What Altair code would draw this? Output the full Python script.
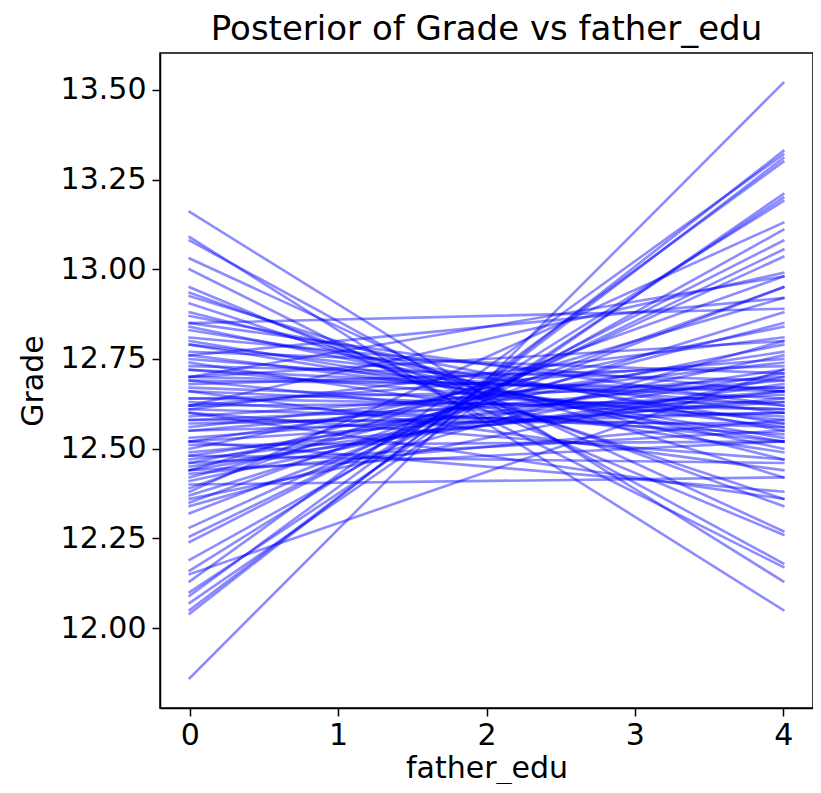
import altair as alt
import pandas as pd

# Grade at father_edu = 0 (start) and father_edu = 4 (end) for each posterior draw
start_vals = [
    11.86, 13.16, 13.09, 13.08, 13.03, 13.00, 12.95, 12.935, 12.925, 12.905,
    12.04, 12.05, 12.07, 12.09, 12.10, 12.13, 12.15, 12.16, 12.19, 12.24,
    12.255, 12.28, 12.32,
    12.34, 12.35, 12.36, 12.37, 12.38, 12.39, 12.40, 12.41, 12.42, 12.43,
    12.44, 12.45, 12.46, 12.46, 12.62, 12.48, 12.49, 12.50, 12.51, 12.52,
    12.53, 12.70, 12.55, 12.56, 12.76, 12.58, 12.59, 12.60, 12.61, 12.62,
    12.62, 12.63, 12.64, 12.85, 12.66, 12.67, 12.68, 12.69, 12.70, 12.70,
    12.52, 12.72, 12.73, 12.74, 12.75, 12.76, 12.77, 12.44, 12.79, 12.80,
    12.81, 12.48, 12.83, 12.84, 12.85, 12.60, 12.87, 12.88,
    12.64, 12.58, 12.52, 12.47, 12.72, 12.66, 12.55, 12.61, 12.69, 12.44,
    12.79, 12.57,
]
end_vals = [
    13.52, 12.13, 12.05, 12.18, 12.27, 12.17, 12.26, 12.34, 12.42, 12.36,
    13.33, 13.31, 13.21, 13.30, 13.20, 13.32, 12.72, 13.19, 13.11, 13.08,
    13.055, 13.035, 12.95,
    12.80, 12.95, 12.70, 12.88, 13.13, 12.98, 12.42, 12.76, 12.85, 12.58,
    12.92, 12.68, 12.79, 12.55, 12.99, 12.72, 12.64, 12.84, 12.52, 12.77,
    12.66, 12.98, 12.60, 12.74, 12.92, 12.57, 12.70, 12.47, 12.81, 12.63,
    12.75, 12.54, 12.67, 12.89, 12.44, 12.61, 12.73, 12.52, 12.66, 12.80,
    12.38, 12.58, 12.69, 12.49, 12.62, 12.56, 12.71, 12.52, 12.60, 12.53,
    12.66, 12.46, 12.57, 12.50, 12.62, 12.36, 12.55, 12.47,
    12.61, 12.65, 12.63, 12.66, 12.64, 12.59, 12.69, 12.56, 12.67, 12.71,
    12.52, 12.60,
]
x_start = 0
x_end = 4
x_ticks = [0, 1, 2, 3, 4]
y_ticks = [12.00, 12.25, 12.50, 12.75, 13.00, 13.25, 13.50]

rows = []
for i, (a, b) in enumerate(zip(start_vals, end_vals)):
    rows.append({"draw": i, "father_edu": x_start, "Grade": a})
    rows.append({"draw": i, "father_edu": x_end, "Grade": b})
df = pd.DataFrame(rows)

font = "DejaVu Sans"

chart = alt.Chart(df).mark_line(
    color="#0000ff", opacity=0.45, strokeWidth=2.6, strokeCap="square"
).encode(
    x=alt.X("father_edu:Q", scale=alt.Scale(domain=[-0.2, 4.2], nice=False, zero=False),
            axis=alt.Axis(values=x_ticks, format="d", title="father_edu")),
    y=alt.Y("Grade:Q", scale=alt.Scale(domain=[11.777, 13.603], nice=False, zero=False),
            axis=alt.Axis(values=y_ticks, format=".2f", title="Grade")),
    detail="draw:N",
).properties(
    width=653,
    height=655,
    title=alt.TitleParams("Posterior of Grade vs father_edu", fontSize=34, font=font,
                          fontWeight="normal", color="#000000", offset=6),
    autosize=alt.AutoSizeParams(type="none"),
    padding={"left": 152, "top": 45, "right": 0, "bottom": 76},
).configure_view(
    stroke="#000000", strokeWidth=1.5
).configure_axis(
    grid=False,
    domainColor="#000000",
    domainWidth=1.5,
    tickColor="#000000",
    tickWidth=1.5,
    tickSize=8,
    labelFont=font,
    labelFontSize=30,
    labelColor="#000000",
    titleFont=font,
    titleFontSize=30,
    titleFontWeight="normal",
    titleColor="#000000",
).configure_axisX(
    labelPadding=4,
    titlePadding=3,
).configure_axisY(
    labelPadding=6,
    titlePadding=12,
)

chart.save("out.html", embed_options={"renderer": "svg", "actions": False})
